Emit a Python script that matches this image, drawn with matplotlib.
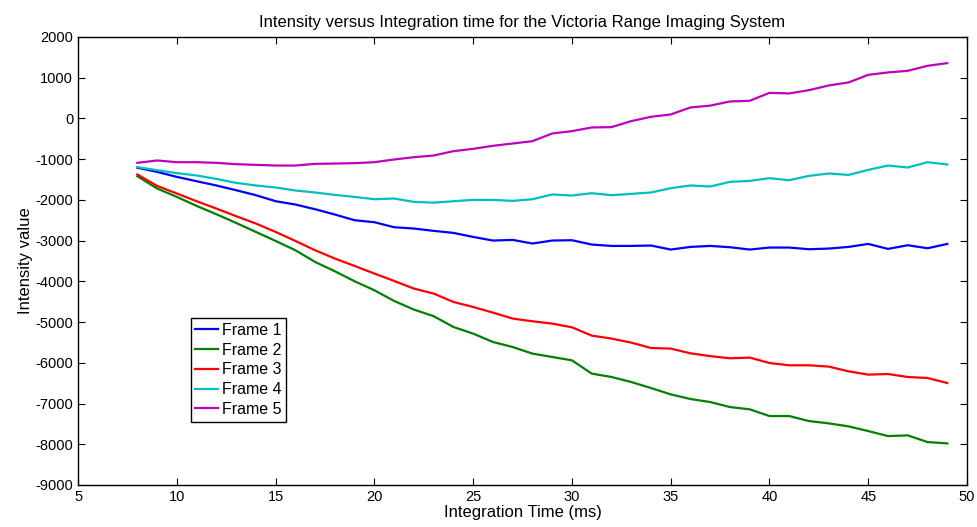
import matplotlib
matplotlib.use("Agg")
import matplotlib.pyplot as plt
import numpy as np

plt.rcParams['font.family'] = ['Liberation Sans', 'DejaVu Sans']
plt.rcParams['axes.unicode_minus'] = False

# Integration time (ms)
int_time = list(range(8, 50))

frame1 = [-1210, -1312, -1435, -1541, -1646, -1762, -1884, -2032, -2113, -2229,
          -2359, -2499, -2548, -2671, -2703, -2760, -2810, -2909, -2998, -2982,
          -3071, -2998, -2990, -3096, -3130, -3130, -3120, -3219, -3154, -3130,
          -3162, -3219, -3170, -3170, -3211, -3195, -3154, -3081, -3203, -3113,
          -3187, -3081]
frame2 = [-1418, -1720, -1926, -2147, -2351, -2565, -2786, -3007, -3236, -3523,
          -3752, -3998, -4219, -4481, -4693, -4855, -5120, -5283, -5488, -5612,
          -5774, -5857, -5939, -6265, -6348, -6471, -6619, -6774, -6889, -6963,
          -7086, -7142, -7307, -7307, -7430, -7487, -7560, -7676, -7799, -7782,
          -7946, -7978]
frame3 = [-1375, -1656, -1843, -2032, -2212, -2400, -2580, -2786, -3007, -3236,
          -3440, -3622, -3808, -3990, -4177, -4300, -4506, -4629, -4767, -4914,
          -4980, -5037, -5128, -5332, -5405, -5504, -5636, -5651, -5767, -5835,
          -5889, -5872, -6005, -6061, -6061, -6093, -6209, -6290, -6275, -6348,
          -6373, -6496]
frame4 = [-1195, -1270, -1344, -1400, -1484, -1582, -1646, -1695, -1769, -1818,
          -1877, -1926, -1983, -1966, -2049, -2068, -2032, -2000, -2000, -2024,
          -1983, -1867, -1892, -1835, -1884, -1852, -1818, -1712, -1646, -1671,
          -1557, -1533, -1467, -1516, -1410, -1351, -1386, -1263, -1156, -1204,
          -1074, -1130]
frame5 = [-1090, -1032, -1074, -1074, -1090, -1123, -1140, -1156, -1156, -1115,
          -1107, -1098, -1074, -1008, -951, -910, -804, -746, -672, -615,
          -558, -369, -312, -221, -213, -66, 40, 98, 270, 315,
          417, 433, 629, 614, 695, 810, 884, 1071, 1130, 1170,
          1292, 1359]

series = [frame1, frame2, frame3, frame4, frame5]
labels = ['Frame 1', 'Frame 2', 'Frame 3', 'Frame 4', 'Frame 5']
colors = [(0, 0, 1), (0, 0.5, 0), (1, 0, 0), (0, 0.75, 0.75), (0.75, 0, 0.75)]

fig = plt.figure(figsize=(9.78, 5.27), dpi=100)
ax = fig.add_axes([0.0798, 0.0797, 0.909, 0.8501])

for y, lab, c in zip(series, labels, colors):
    ax.plot(int_time, y, color=c, linewidth=1.6, label=lab)

ax.set_xlim(5, 50)
ax.set_ylim(-9000, 2000)
ax.set_xticks(np.arange(5, 51, 5))
ax.set_yticks(np.arange(-9000, 2001, 1000))
ax.tick_params(direction='in', top=True, right=True, labelsize=10.5, length=5)
for s in ax.spines.values():
    s.set_linewidth(1.0)

ax.set_title('Intensity versus Integration time for the Victoria Range Imaging System',
             fontsize=12, pad=7)
ax.set_xlabel('Integration Time (ms)', fontsize=12, labelpad=1)
ax.set_ylabel('Intensity value', fontsize=12, labelpad=2)

leg = ax.legend(loc='lower left', bbox_to_anchor=(0.1265, 0.141), fontsize=11.5,
                fancybox=False, edgecolor='black', framealpha=1,
                handlelength=1.45, handletextpad=0.2, borderpad=0.3,
                labelspacing=0.3, borderaxespad=0)
leg.get_frame().set_linewidth(1.0)

fig.savefig('out.png', dpi=100)
